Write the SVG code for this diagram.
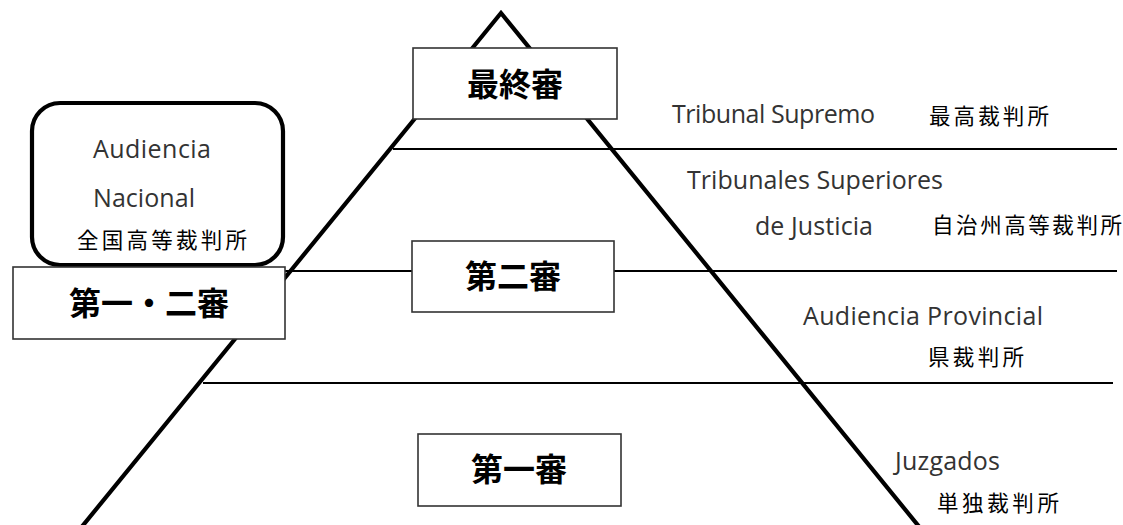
<svg xmlns="http://www.w3.org/2000/svg" width="1123" height="525" viewBox="0 0 1123 525">
<style>
.pyr{stroke:#000;stroke-width:4.2;fill:none}
.hl{stroke:#000;stroke-width:1.8;fill:none}
.box{fill:#fff;stroke:#333;stroke-width:1.6}
.rbox{fill:#fff;stroke:#000;stroke-width:4.2}
.lbl{font-family:"Noto Sans CJK JP","Noto Sans CJK SC",sans-serif;font-weight:bold;font-size:32px;fill:#000;text-anchor:middle}
.lat{font-family:"Open Sans","Liberation Sans",sans-serif;font-size:25px;fill:#333}
.jp{font-family:"Noto Sans CJK JP","Noto Sans CJK SC",sans-serif;font-size:21.5px;fill:#000}
</style>
<rect width="1123" height="525" fill="#fff"/>
<g id="connectors">
<path class="pyr" d="M80,529 L501,13 L921,529"/>
<line class="hl" x1="393" y1="149" x2="1117" y2="149"/>
<line class="hl" x1="285" y1="271" x2="412" y2="271"/>
<line class="hl" x1="614" y1="271" x2="1117" y2="271"/>
<line class="hl" x1="203" y1="383" x2="1113" y2="383"/>
</g>
<g id="node-saishushin">
<rect class="box" x="413" y="48" width="204" height="71"/>
<text class="lbl" x="515" y="96">最終審</text>
</g>
<g id="node-dainishin">
<rect class="box" x="412" y="241" width="202" height="71"/>
<text class="lbl" x="513" y="288">第二審</text>
</g>
<g id="node-daiisshin">
<rect class="box" x="418" y="434" width="203" height="72"/>
<text class="lbl" x="519" y="481">第一審</text>
</g>
<g id="node-audiencia-nacional">
<rect class="rbox" x="32" y="103" width="251" height="162" rx="28" ry="28"/>
<text class="lat" x="93" y="158" textLength="118">Audiencia</text>
<text class="lat" x="93" y="207" textLength="102">Nacional</text>
<text class="jp" x="77" y="248" textLength="170">全国高等裁判所</text>
</g>
<g id="node-daiichi-nishin">
<rect class="box" x="13" y="267" width="272" height="72"/>
<text class="lbl" x="149" y="315">第一・二審</text>
</g>
<g id="label-supremo">
<text class="lat" x="672" y="123" textLength="203">Tribunal Supremo</text>
<text class="jp" x="929" y="124" textLength="120">最高裁判所</text>
</g>
<g id="label-superiores">
<text class="lat" x="687" y="189" textLength="256">Tribunales Superiores</text>
<text class="lat" x="755" y="235" textLength="118">de Justicia</text>
<text class="jp" x="932" y="233" textLength="190">自治州高等裁判所</text>
</g>
<g id="label-provincial">
<text class="lat" x="803" y="325" textLength="240">Audiencia Provincial</text>
<text class="jp" x="928" y="365" textLength="96">県裁判所</text>
</g>
<g id="label-juzgados">
<text class="lat" x="895" y="470" textLength="105">Juzgados</text>
<text class="jp" x="937" y="511" textLength="122">単独裁判所</text>
</g>
</svg>
